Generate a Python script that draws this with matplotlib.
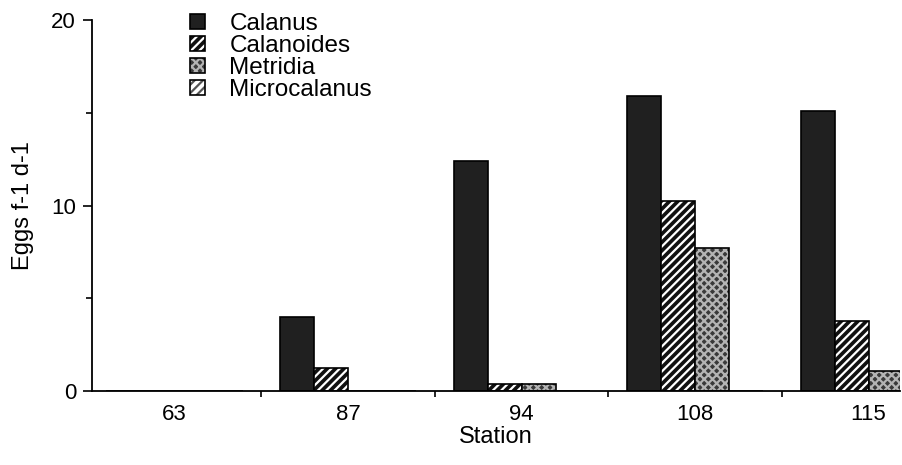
import numpy as np
import matplotlib
matplotlib.use("Agg")
import matplotlib.pyplot as plt
from matplotlib.patches import Patch

plt.rcParams['font.family'] = ['Liberation Sans', 'DejaVu Sans']
plt.rcParams['hatch.linewidth'] = 1.6

stations = ["63", "87", "94", "108", "115"]
calanus = [0, 4.0, 12.4, 15.9, 15.1]
calanoides = [0, 1.25, 0.4, 10.25, 3.8]
metridia = [0, 0, 0.4, 7.7, 1.1]
microcalanus = [0, 0, 0, 0, 0]

species = ["Calanus", "Calanoides", "Metridia", "Microcalanus"]
series = [calanus, calanoides, metridia, microcalanus]

# face, hatch colour, hatch
styles = [
    ("#202020", "#202020", None),
    ("#111111", "white", "////"),
    ("#3a3a3a", "#b4b4b4", "xxxx"),
    ("white", "#555555", "////"),
]

fig = plt.figure(figsize=(9.02, 4.65), dpi=100)
ax = fig.add_axes([0.102, 0.159, 0.896, 0.798])

x = np.arange(len(stations))
w = 0.196
offsets = [-1.5 * w, -0.5 * w, 0.5 * w, 1.5 * w]

for vals, off, (fc, hc, h) in zip(series, offsets, styles):
    ax.bar(x + off, vals, w, color=fc, edgecolor=hc, hatch=h, linewidth=0)
    ax.bar(x + off, vals, w, fill=False, edgecolor="black", linewidth=1.2)

ax.set_xlim(-0.4755, 4.182)
ax.set_ylim(0, 20)
# tick marks between groups, labels under the groups
ax.set_xticks(x[:-1] + 0.5)
ax.set_xticklabels([])
ax.set_xticks(x, minor=True)
ax.set_xticklabels(stations, minor=True)
ax.tick_params(axis='x', which='minor', length=0, pad=9, labelsize=16)
ax.tick_params(axis='x', which='major', length=4, width=1.2)

ax.set_yticks([0, 10, 20])
ax.set_yticks([5, 15], minor=True)
ax.tick_params(axis='y', which='major', length=6.5, width=1.2, pad=5, labelsize=16)
ax.tick_params(axis='y', which='minor', length=4, width=1.2)

ax.spines['top'].set_visible(False)
ax.spines['right'].set_visible(False)
ax.spines['left'].set_linewidth(1.3)
ax.spines['bottom'].set_linewidth(1.3)

ax.set_xlabel("Station", fontsize=17, labelpad=1)
ax.set_ylabel("Eggs f-1 d-1", fontsize=17, labelpad=12)

handles = []
for name, (fc, hc, h) in zip(species, styles):
    inner = Patch(facecolor=fc, edgecolor=hc, hatch=h, linewidth=0)
    outer = Patch(fill=False, edgecolor="black", linewidth=1.2)
    handles.append((inner, outer))
leg = fig.legend(handles=handles, labels=species, loc='upper left',
                 bbox_to_anchor=(0.2106, 0.972), borderaxespad=0, borderpad=0,
                 frameon=False, fontsize=17.5, handlelength=0.62, handleheight=0.62,
                 handletextpad=1.0, labelspacing=0.0)

fig.savefig("out.png", dpi=100)
